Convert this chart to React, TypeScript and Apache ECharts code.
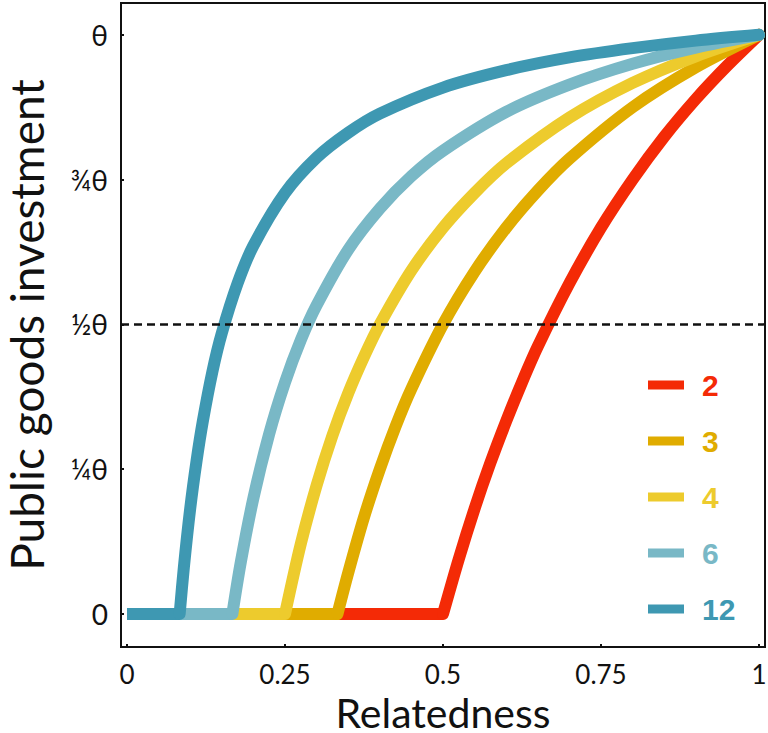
import React, { useEffect, useRef } from "react";
import * as echarts from "echarts";

// Group sizes (legend)
const groupSizes = ["2", "3", "4", "6", "12"];
const colors = ["#F42A06", "#E0AC00", "#EDCB2D", "#79B8C6", "#3E98B2"];

// Relatedness (x) and investment (y, in units of θ)
const relN2 = [0, 0.5, 0.525, 0.55, 0.575, 0.6, 0.625, 0.65, 0.7, 0.75, 0.8, 0.85, 0.9, 0.95, 1];
const invN2 = [0, 0, 0.095, 0.182, 0.261, 0.333, 0.4, 0.462, 0.571, 0.667, 0.75, 0.824, 0.889, 0.947, 1];

const relN3 = [0, 0.333, 0.35, 0.375, 0.4, 0.425, 0.45, 0.5, 0.55, 0.6, 0.65, 0.7, 0.8, 0.9, 1];
const invN3 = [0, 0, 0.071, 0.167, 0.25, 0.324, 0.389, 0.5, 0.591, 0.667, 0.731, 0.786, 0.875, 0.944, 1];

const relN4 = [0, 0.25, 0.275, 0.3, 0.325, 0.35, 0.375, 0.4, 0.45, 0.5, 0.55, 0.6, 0.7, 0.8, 0.9, 1];
const invN4 = [0, 0, 0.121, 0.222, 0.308, 0.381, 0.444, 0.5, 0.593, 0.667, 0.727, 0.778, 0.857, 0.917, 0.963, 1];

const relN6 = [0, 0.1667, 0.18, 0.2, 0.225, 0.25, 0.275, 0.3, 0.35, 0.4, 0.45, 0.5, 0.6, 0.7, 0.8, 0.9, 1];
const invN6 = [0, 0, 0.089, 0.2, 0.311, 0.4, 0.473, 0.533, 0.629, 0.7, 0.756, 0.8, 0.867, 0.914, 0.95, 0.978, 1];

const relN12 = [0, 0.0833, 0.09, 0.1, 0.11, 0.12, 0.135, 0.15, 0.175, 0.2, 0.25, 0.3, 0.35, 0.4, 0.5, 0.6, 0.7, 0.8, 0.9, 1];
const invN12 = [0, 0, 0.081, 0.182, 0.264, 0.333, 0.418, 0.485, 0.571, 0.636, 0.727, 0.788, 0.831, 0.864, 0.909, 0.939, 0.961, 0.977, 0.99, 1];

const xTicks = [0, 0.25, 0.5, 0.75, 1];
const xTickLabels = ["0", "0.25", "0.5", "0.75", "1"];
const yTicks = [0, 0.25, 0.5, 0.75, 1];
const yTickLabels = ["0", "¼θ", "½θ", "¾θ", "θ"];
const halfLine = 0.5;

const rels = [relN2, relN3, relN4, relN6, relN12];
const invs = [invN2, invN3, invN4, invN6, invN12];

const X_MIN = -0.0095;
const X_MAX = 1.0095;
const Y_MIN = -0.057;
const Y_MAX = 1.055;

const axisFont = "Lato, 'Open Sans', sans-serif";

export default function App() {
  const ref = useRef<HTMLDivElement>(null);
  useEffect(() => {
    if (!ref.current) return;
    const chart = echarts.init(ref.current, null, { renderer: "svg" });
    const curveSeries: any[] = [];
    groupSizes.forEach((name, i) => {
      const pts = rels[i].map((r, j) => [r, invs[i][j]]);
      // flat part (zero investment below the threshold)
      curveSeries.push({
        name,
        type: "line",
        data: pts.slice(0, 2),
        showSymbol: false,
        symbol: "none",
        silent: true,
        lineStyle: { color: colors[i], width: 12, cap: "butt" },
        itemStyle: { color: colors[i] },
        z: 2 + i,
      });
      // rising part
      curveSeries.push({
        name,
        type: "line",
        data: pts.slice(1),
        showSymbol: false,
        symbol: "none",
        silent: true,
        smooth: 0.3,
        lineStyle: { color: colors[i], width: 12, cap: "round", join: "round" },
        itemStyle: { color: colors[i] },
        z: 2 + i,
      });
    });
    const option: any = {
      animation: false,
      backgroundColor: "#fff",
      grid: {
        left: 121,
        top: 3,
        width: 644,
        height: 644,
        show: true,
        borderColor: "#111",
        borderWidth: 2,
        backgroundColor: "transparent",
        containLabel: false,
        outerBoundsMode: "none",
      },
      legend: {
        orient: "vertical",
        left: 643,
        top: 365,
        itemWidth: 36,
        itemHeight: 9,
        itemGap: 26,
        icon: "rect",
        selectedMode: false,
        data: groupSizes.map((name, i) => ({
          name,
          textStyle: { color: colors[i] },
        })),
        textStyle: {
          fontFamily: "'Liberation Sans', Arial, sans-serif",
          fontWeight: "bold",
          fontSize: 30,
          lineHeight: 30,
          padding: [0, 0, 0, 13],
        },
      },
      xAxis: {
        type: "value",
        min: X_MIN,
        max: X_MAX,
        name: "Relatedness",
        nameLocation: "middle",
        nameGap: 44,
        nameTextStyle: { fontFamily: axisFont, fontSize: 41, lineHeight: 32, color: "#111" },
        axisLine: { show: true, onZero: false, lineStyle: { color: "#111", width: 2 } },
        axisTick: {
          show: true,
          inside: true,
          length: 3,
          customValues: xTicks,
          lineStyle: { color: "#111", width: 2 },
        },
        axisLabel: {
          customValues: xTicks,
          margin: 14,
          fontFamily: axisFont,
          fontSize: 26,
          color: "#111",
          formatter: (v: number) => xTickLabels[xTicks.findIndex((t) => Math.abs(t - v) < 1e-6)] ?? "",
        },
        splitLine: { show: false },
      },
      yAxis: {
        type: "value",
        min: Y_MIN,
        max: Y_MAX,
        name: "Public goods investment",
        nameLocation: "middle",
        nameGap: 72,
        nameTextStyle: { fontFamily: axisFont, fontSize: 46, color: "#111" },
        axisLine: { show: true, onZero: false, lineStyle: { color: "#111", width: 2 } },
        axisTick: {
          show: true,
          inside: true,
          length: 3,
          customValues: yTicks,
          lineStyle: { color: "#111", width: 2 },
        },
        axisLabel: {
          customValues: yTicks,
          margin: 13,
          fontFamily: axisFont,
          fontSize: 28,
          color: "#111",
          formatter: (v: number) => yTickLabels[yTicks.findIndex((t) => Math.abs(t - v) < 1e-6)] ?? "",
        },
        splitLine: { show: false },
      },
      series: [
        ...curveSeries,
        {
          name: "half",
          type: "line",
          data: [
            [X_MIN, halfLine],
            [X_MAX, halfLine],
          ],
          symbol: "none",
          silent: true,
          lineStyle: { color: "#111", width: 2.5, type: [8, 5] },
          z: 10,
        },
      ],
    };
    chart.setOption(option);
    return () => chart.dispose();
  }, []);
  return (
    <div
      ref={ref}
      style={{ position: "absolute", left: 0, top: 0, width: 768, height: 733 }}
    />
  );
}
